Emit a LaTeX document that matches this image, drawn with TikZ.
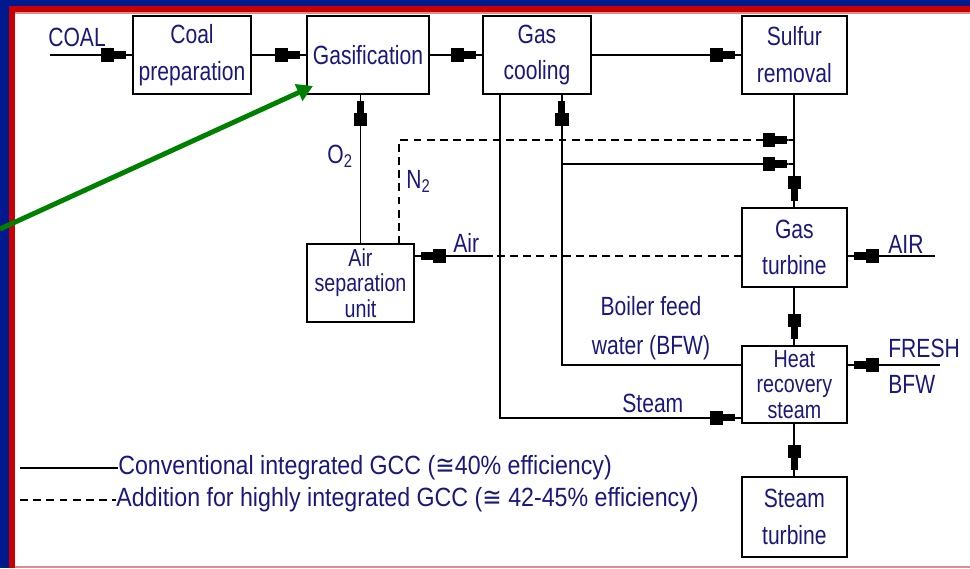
\documentclass[tikz,border=0pt]{standalone}
\usepackage{fontspec}
\setmainfont{Liberation Sans}[FakeStretch=0.8]
\newfontfamily\symfont{DejaVu Sans}[FakeStretch=0.8]
\newfontfamily\legendfont{Liberation Sans}[FakeStretch=0.88]
\newfontfamily\legendsym{DejaVu Sans}[FakeStretch=0.88]
\usetikzlibrary{arrows.meta, positioning}
\definecolor{txtblue}{RGB}{25,25,125}
\definecolor{frameblue}{RGB}{0,25,140}
\definecolor{framered}{RGB}{200,0,0}
\definecolor{framepink}{RGB}{225,140,140}
\definecolor{pointgreen}{RGB}{0,128,0}
\tikzstyle{block} = [rectangle, draw=black, line width=1.1pt, minimum width=2.1cm,
                     minimum height=1.56cm, inner sep=0pt, outer sep=0pt, align=center,
                     text=txtblue, font=\fontsize{15}{21}\selectfont]
\tikzstyle{lbl}   = [text=txtblue, font=\fontsize{15}{18}\selectfont, inner sep=0pt]
\tikzstyle{arrow} = [line width=1.1pt,
                     -{Rectangle[length=7pt,width=7.5pt]Rectangle[length=7pt,width=4pt]Rectangle[length=4pt,width=1.1pt]}]
\tikzstyle{dline} = [line width=1.1pt, dash pattern=on 4.5pt off 3pt]
\newcommand{\approxeq}{{\legendsym ≅}}

\begin{document}
\begin{tikzpicture}[x=0.02cm, y=-0.02cm]
\useasboundingbox (0,0) rectangle (970,568);

% frame
\fill[frameblue] (0,0) rectangle (970,5.5);
\fill[frameblue] (0,0) rectangle (9,568);
\fill[framered] (9,5.5) rectangle (970,12);
\fill[framered] (9,5.5) rectangle (15,568);
\fill[framepink] (15,12) rectangle (970,13.5);
\fill[framepink] (15,566) rectangle (970,568);

% process units
\node (coal)   [block, minimum width=2.36cm] at (192,55) {Coal\\preparation};
\node (gasif)  [block, minimum width=2.44cm, right=1.12cm of coal] {Gasification};
\node (cool)   [block, minimum width=2.16cm, right=1.08cm of gasif] {Gas\\cooling};
\node (sulfur) [block, right=3.02cm of cool] {Sulfur\\removal};
\node (gt)     [block, minimum height=1.58cm, below=2.28cm of sulfur] {Gas\\turbine};
\node (hrs)    [block, minimum height=1.54cm, below=1.18cm of gt,
                font=\fontsize{14}{14.5}\selectfont] {Heat\\recovery\\steam};
\node (st)     [block, minimum height=1.6cm, below=1.08cm of hrs] {Steam\\turbine};
\node (asu)    [block, minimum width=2.14cm, font=\fontsize{14}{14.5}\selectfont]
               at (360.5,283) {Air\\separation\\unit};

% stream labels
\node (coallbl)  [lbl, anchor=base west] at (48,46)   {COAL};
\node (o2lbl)    [lbl, anchor=base west] at (327,163) {O\textsubscript{2}};
\node (n2lbl)    [lbl, anchor=base west] at (406,188) {N\textsubscript{2}};
\node (airlbl)   [lbl, anchor=base west] at (453,252) {Air};
\node (airinlbl) [lbl, anchor=base west] at (888,253) {AIR};
\node (freshlbl) [lbl, anchor=base west] at (888,357) {FRESH};
\node (bfwlbl)   [lbl, anchor=base west] at (888,393) {BFW};
\node (feedlbl)  [lbl, align=center, font=\fontsize{15}{22.5}\selectfont]
                 at (651,328) {Boiler feed\\water (BFW)};
\node (steamlbl) [lbl, anchor=base west] at (622,412) {Steam};

% feeds
\coordinate (coalin)   at (50,55);
\coordinate (airin)    at (935,256);
\coordinate (freshin)  at (940,365);
\coordinate (airsplit) at (493,256);
\coordinate (njoin)    at (794.5,140);
\coordinate (sjoin)    at (794.5,164);
\coordinate (bfwup)    at ([xshift=0.5cm]cool.south);
\coordinate (steamdn)  at ([xshift=-0.74cm]cool.south);
\coordinate (n2up)     at ([xshift=0.77cm]asu.north);

% main train
\draw [arrow] (coalin) -- (coal);
\draw [arrow] (coal)   -- (gasif);
\draw [arrow] (gasif)  -- (cool);
\draw [arrow] (cool)   -- (sulfur);
\draw [arrow] (sulfur) -- (gt);
\draw [arrow] (gt)     -- (hrs);
\draw [arrow] (hrs)    -- (st);
\draw [arrow] (airin)   -- (gt.east |- airin);
\draw [arrow] (freshin) -- (hrs.east |- freshin);

% oxygen, nitrogen and air
\draw [arrow] (asu.north) -- (asu.north |- gasif.south);
\draw [arrow, dline] (n2up) |- (njoin);
\draw [dline] (gt.west |- airsplit) -- (airsplit);
\draw [arrow] (airsplit) -- (asu.east |- airsplit);

% water and steam
\draw [arrow] ([yshift=0.39cm]hrs.west) -| (bfwup);
\draw [arrow] (bfwup |- sjoin) -- (sjoin);
\draw [arrow] (steamdn) |- ([yshift=-0.67cm]hrs.west);

% legend
\node (legsolid)  [lbl, anchor=west, font=\legendfont\fontsize{15}{18}\selectfont] at (118,468)
      {Conventional integrated GCC (\approxeq40\% efficiency)};
\node (legdashed) [lbl, anchor=west, font=\legendfont\fontsize{15}{18}\selectfont] at (116,500)
      {Addition for highly integrated GCC (\approxeq\ 42-45\% efficiency)};
\coordinate (solidstart)  at (20,468);
\coordinate (dashedstart) at (20,500);
\draw [line width=1.1pt] (solidstart) -- (legsolid.west);
\draw [dline] (dashedstart) -- (legdashed.west);

% pointer
\coordinate (ptrstart) at (0,229);
\draw [pointgreen, line width=2.8pt, -{Triangle[length=9pt,width=10pt]}]
      (ptrstart) -- ([shift={(0.12cm,0.16cm)}]gasif.south west);

\end{tikzpicture}
\end{document}
